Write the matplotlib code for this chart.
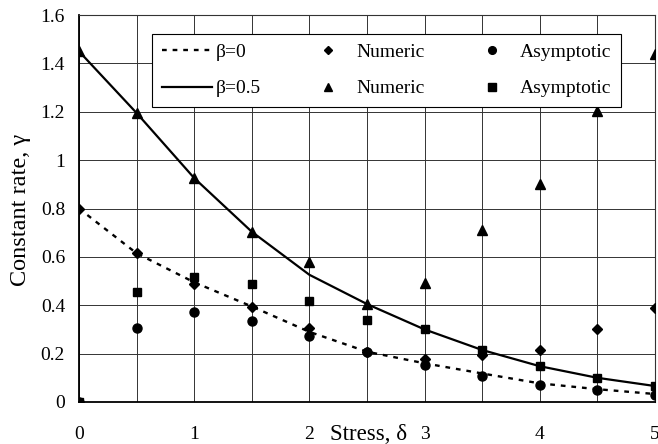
import matplotlib
matplotlib.use("Agg")
import matplotlib.pyplot as plt
from matplotlib.ticker import FuncFormatter, MultipleLocator

# stress values
stress = [0, 0.5, 1, 1.5, 2, 2.5, 3, 3.5, 4, 4.5, 5]

# beta = 0
curve_b0 = [0.80, 0.615, 0.495, 0.395, 0.29, 0.208, 0.16, 0.118, 0.077, 0.053, 0.033]
num_b0 = [0.80, 0.615, 0.487, 0.393, 0.306, 0.205, 0.177, 0.195, 0.214, 0.30, 0.39]
asy_b0 = [0.0, 0.304, 0.373, 0.335, 0.272, 0.207, 0.152, 0.106, 0.069, 0.048, 0.03]

# beta = 0.5
curve_b05 = [1.45, 1.195, 0.926, 0.704, 0.526, 0.405, 0.30, 0.215, 0.148, 0.10, 0.066]
num_b05 = [1.45, 1.195, 0.926, 0.704, 0.577, 0.407, 0.49, 0.711, 0.90, 1.205, 1.44]
asy_b05 = [0.0, 0.453, 0.515, 0.486, 0.418, 0.337, 0.30, 0.214, 0.148, 0.10, 0.066]

plt.rcParams['font.family'] = ['Liberation Serif', 'DejaVu Serif']
fs = 14

fig = plt.figure(figsize=(6.58, 4.44), dpi=100)
ax = fig.add_axes([0.120, 0.0946, 0.8754, 0.8716])

l1, = ax.plot(stress, curve_b0, color='black', lw=1.7, linestyle=(0, (2, 2.5)), zorder=3)
l2, = ax.plot(stress, curve_b05, color='black', lw=1.6, zorder=3)
m3, = ax.plot(stress, asy_b0, 'o', color='black', ms=6.5, linestyle='none', zorder=4)
m4, = ax.plot(stress, asy_b05, 's', color='black', ms=6, linestyle='none', zorder=4)
m1, = ax.plot(stress, num_b0, 'D', color='black', ms=5, linestyle='none', zorder=5)
m2, = ax.plot(stress, num_b05, '^', color='black', ms=6.5, linestyle='none', zorder=5)

ax.set_xlim(0, 5)
ax.set_ylim(0, 1.6)
ax.xaxis.set_major_locator(MultipleLocator(1))
ax.xaxis.set_minor_locator(MultipleLocator(0.5))
ax.yaxis.set_major_locator(MultipleLocator(0.2))
ax.yaxis.set_major_formatter(FuncFormatter(lambda v, p: '%g' % round(v, 2)))
ax.grid(True, which='both', color='#333333', lw=0.7)
ax.set_axisbelow(True)
ax.tick_params(which='both', length=0)
ax.tick_params(axis='x', pad=17, labelsize=fs)
ax.tick_params(axis='y', pad=10, labelsize=fs)

for s in ['left', 'bottom']:
    ax.spines[s].set_linewidth(1.3)
for s in ['top', 'right']:
    ax.spines[s].set_linewidth(0.8)
    ax.spines[s].set_color('#333333')

ax.set_xlabel('Stress, δ', fontsize=16.5)
ax.xaxis.set_label_coords(0.503, -0.058)
ax.set_ylabel('Constant rate, γ', fontsize=17.5)
ax.yaxis.set_label_coords(-0.083, 0.496)

leg = ax.legend([l1, l2, m1, m2, m3, m4],
                ['β=0', 'β=0.5', 'Numeric', 'Numeric', 'Asymptotic', 'Asymptotic'],
                ncol=3, loc='upper left', bbox_to_anchor=(0.127, 0.951, 0.814, 0.0),
                mode='expand', fontsize=fs, handlelength=2.6, handletextpad=0.15,
                fancybox=False, framealpha=1, edgecolor='black', borderaxespad=0,
                labelspacing=0.95, borderpad=0.5, markerscale=0.85)
leg.get_frame().set_linewidth(0.8)

fig.savefig('out.png', dpi=100)
